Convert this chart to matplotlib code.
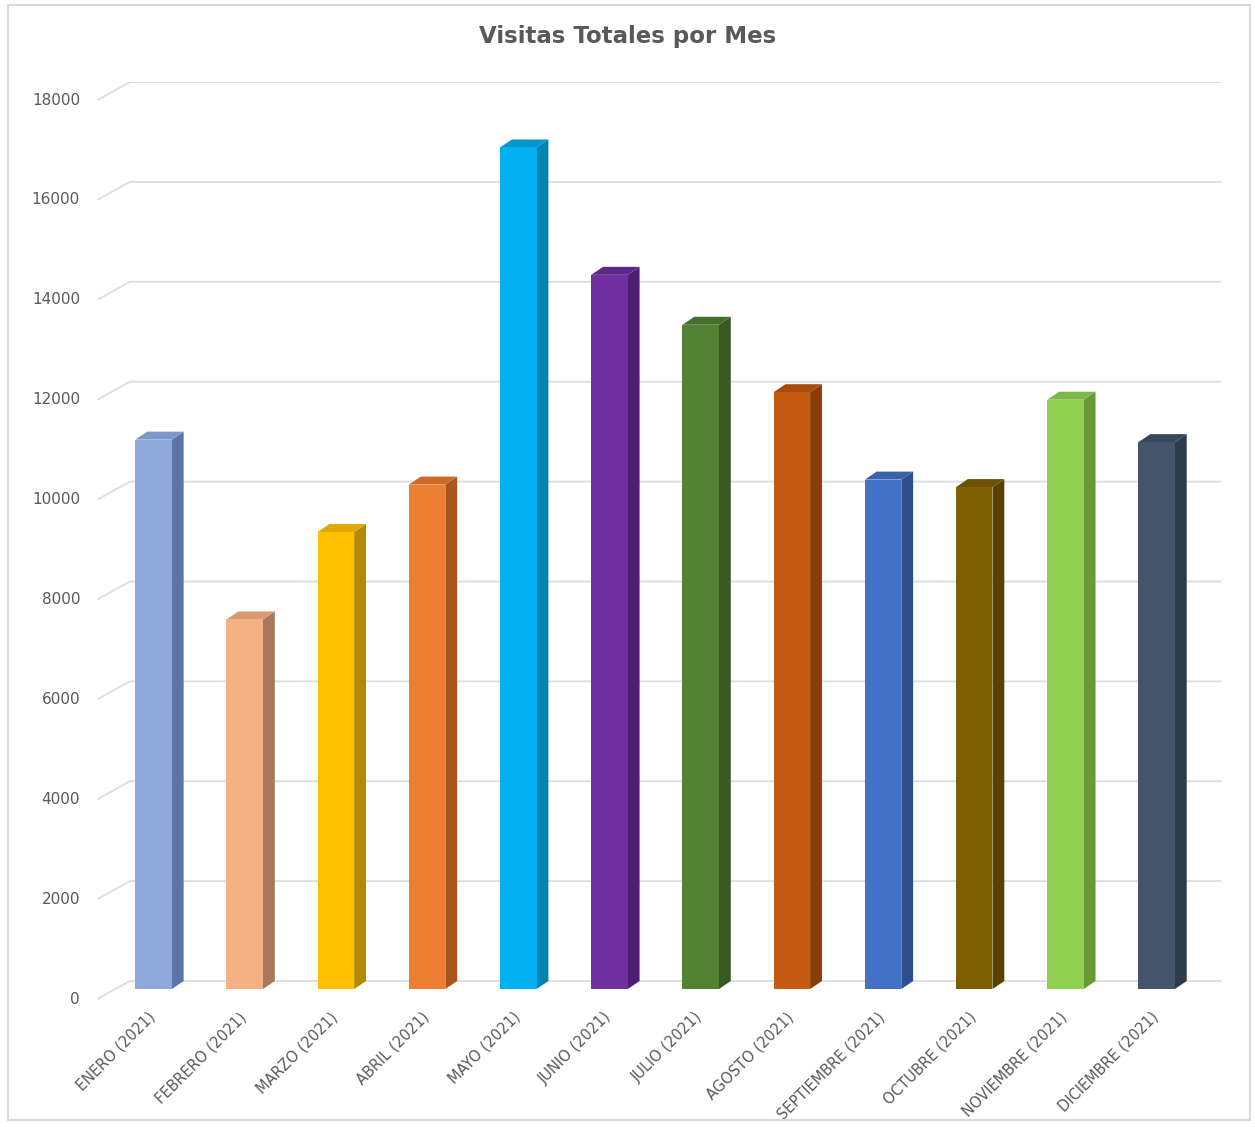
import matplotlib.pyplot as plt
from matplotlib.patches import Polygon, Rectangle
from matplotlib.transforms import ScaledTranslation

# datos
meses = ["ENERO (2021)", "FEBRERO (2021)", "MARZO (2021)", "ABRIL (2021)",
         "MAYO (2021)", "JUNIO (2021)", "JULIO (2021)", "AGOSTO (2021)",
         "SEPTIEMBRE (2021)", "OCTUBRE (2021)", "NOVIEMBRE (2021)", "DICIEMBRE (2021)"]
visitas = [11000, 7400, 9150, 10100, 16850, 14300, 13300, 11950, 10200, 10050, 11800, 10950]
niveles = [0, 2000, 4000, 6000, 8000, 10000, 12000, 14000, 16000, 18000]

color_frente = ["#8EA9DB", "#F4B183", "#FFC000", "#ED7D31", "#00B0F0", "#7030A0",
                "#548235", "#C55A11", "#4472C4", "#7F6000", "#92D050", "#44546A"]
color_lado = ["#5B74A6", "#A8785A", "#B58A00", "#A8561F", "#0082B0", "#4C1F70",
              "#385A22", "#8A3D0B", "#2D4F8E", "#574200", "#659A35", "#2D3A4B"]
color_arriba = ["#7C97C9", "#D99A70", "#E0A800", "#CF6A25", "#0096CC", "#5E2888",
                "#466E2C", "#AA4C0E", "#3962AC", "#6B5100", "#7CB845", "#39475B"]

gris = "#595959"
dx, dy = 0.13, 160     # profundidad del efecto 3D
ancho = 0.4

fig = plt.figure(figsize=(12.55, 11.27), dpi=100)
ax = fig.add_axes([0.0773, 0.1118, 0.8988, 0.8154])
xl, xr = -0.62, 11.75
ax.set_xlim(xl, xr)
ax.set_ylim(-400, 18000)

# rejilla con perspectiva
izq = ScaledTranslation(-0.17, 0, fig.dpi_scale_trans)
for g in niveles:
    ax.plot([xl + 0.005, xl + 0.36, xr - 0.04], [g - 360, g, g],
            color="#DDDDDD", lw=1.3, zorder=0, solid_capstyle="butt")
    ax.text(xl, g - 360, str(g), ha="right", va="center", fontsize=11,
            color=gris, family="DejaVu Sans", clip_on=False,
            transform=ax.transData + izq)

pos = list(range(len(meses)))
ax.bar(pos, visitas, width=ancho, bottom=-dy, color=color_frente, zorder=3)
for i, v in enumerate(visitas):
    x1 = i + ancho / 2
    x0 = i - ancho / 2
    ax.add_patch(Polygon([(x1, -dy), (x1, v - dy), (x1 + dx, v), (x1 + dx, 0)],
                         closed=True, facecolor=color_lado[i], edgecolor="none", zorder=2))
    ax.add_patch(Polygon([(x0, v - dy), (x1, v - dy), (x1 + dx, v), (x0 + dx, v)],
                         closed=True, facecolor=color_arriba[i], edgecolor="none", zorder=2))

ax.set_xticks(pos)
ax.set_xticklabels(meses, rotation=45, ha="right", rotation_mode="anchor",
                   fontsize=10.5, color=gris, family="DejaVu Sans")
ax.tick_params(axis="x", length=0, pad=6)
mover = ScaledTranslation(-0.06, 0, fig.dpi_scale_trans)
for lab in ax.get_xticklabels():
    lab.set_transform(lab.get_transform() + mover)
ax.set_yticks([])
for s in ax.spines.values():
    s.set_visible(False)
ax.patch.set_alpha(0)

fig.text(0.5, 0.968, "Visitas Totales por Mes", ha="center", va="center",
         fontsize=16.5, fontweight="bold", color=gris, family="DejaVu Sans")

# borde del area del grafico
fig.patches.append(Rectangle((0.006, 0.006), 0.99, 0.99, transform=fig.transFigure,
                             fill=False, edgecolor="#D9D9D9", lw=1.5))

fig.savefig("out.png", dpi=100)
